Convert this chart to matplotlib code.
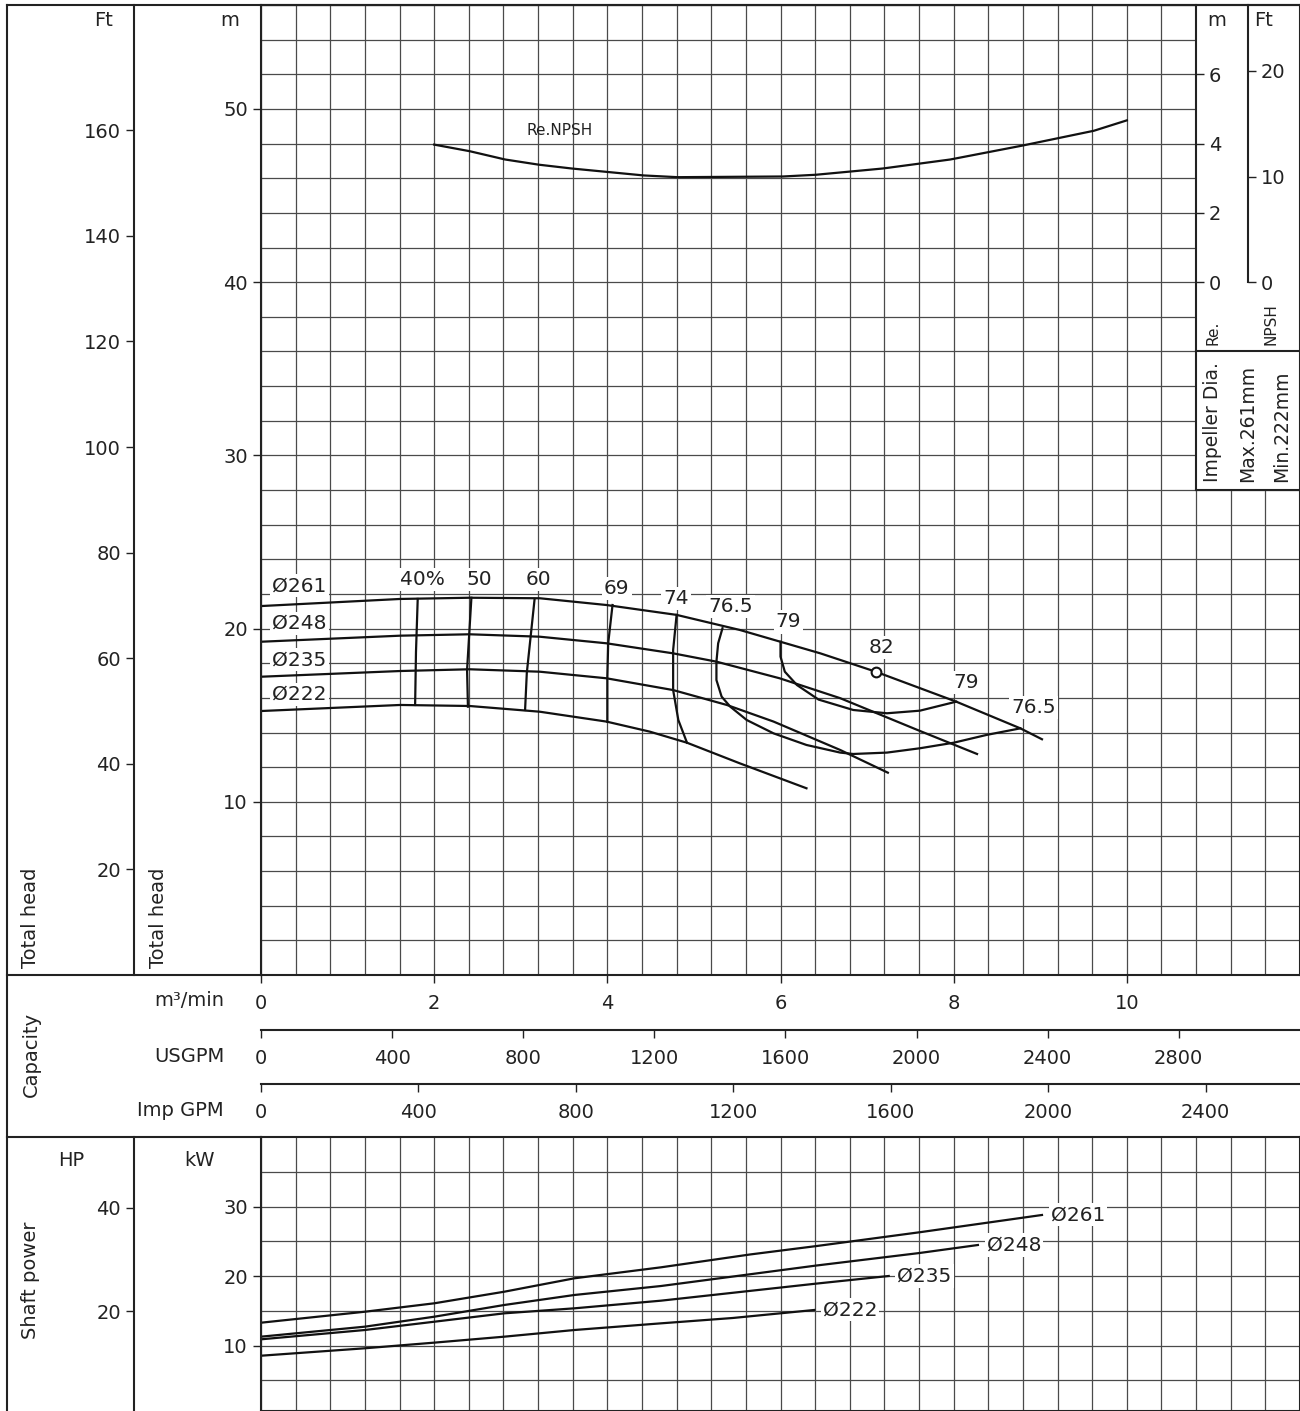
import numpy as np
import matplotlib
matplotlib.use('Agg')
import matplotlib.pyplot as plt
from matplotlib.lines import Line2D
from matplotlib.patches import Rectangle

W, H = 1300, 1411

# ---- head curves (capacity m3/min, head m)
q_261 = [0, 1.61, 2.41, 3.22, 3.99, 4.80, 5.53, 6.46, 7.10, 8.03, 8.77, 9.02]
h_261 = [21.30, 21.71, 21.78, 21.75, 21.36, 20.79, 19.92, 18.57, 17.51, 15.78, 14.24, 13.61]
q_248 = [0, 1.61, 2.41, 3.22, 3.99, 4.76, 5.26, 5.99, 6.69, 7.58, 8.27]
h_248 = [19.24, 19.59, 19.67, 19.53, 19.15, 18.57, 18.09, 17.13, 15.98, 14.15, 12.76]
q_235 = [0, 1.61, 2.41, 3.22, 3.99, 4.76, 5.38, 5.92, 6.69, 7.24]
h_235 = [17.22, 17.55, 17.65, 17.51, 17.13, 16.45, 15.59, 14.63, 12.99, 11.68]
q_222 = [0, 1.61, 2.41, 3.22, 3.99, 4.49, 4.92, 5.53, 6.30]
h_222 = [15.24, 15.59, 15.53, 15.20, 14.63, 14.05, 13.41, 12.22, 10.78]
dia_labels = ['Ø261', 'Ø248', 'Ø235', 'Ø222']
dia_label_h = [22.46, 20.32, 18.19, 16.22]

# ---- efficiency lines
e40_q = [1.81, 1.79, 1.78]
e40_h = [21.71, 18.65, 15.59]
e50_q = [2.43, 2.38, 2.39]
e50_h = [21.78, 17.61, 15.49]
e60_q = [3.16, 3.07, 3.05]
e60_h = [21.71, 17.44, 15.30]
e69_q = [4.06, 4.01, 4.00, 4.00]
e69_h = [21.36, 19.15, 17.22, 14.62]
e74_q = [4.80, 4.76, 4.76, 4.82, 4.92]
e74_h = [20.79, 18.76, 16.45, 14.72, 13.41]
e765_q = [5.33, 5.28, 5.26, 5.26, 5.32, 5.42, 5.61, 5.92, 6.30, 6.69, 6.84, 7.23, 7.61, 8.00, 8.38, 8.77]
e765_h = [20.02, 19.15, 18.09, 17.03, 16.07, 15.49, 14.72, 13.95, 13.28, 12.84, 12.76, 12.84, 13.09, 13.41, 13.86, 14.24]
e79_q = [6.00, 6.00, 6.05, 6.19, 6.44, 6.84, 7.23, 7.61, 8.03]
e79_h = [19.24, 18.38, 17.51, 16.74, 15.90, 15.30, 15.11, 15.26, 15.78]
best_q, best_h = 7.10, 17.51
eff_labels = ['40%', '50', '60', '69', '74', '76.5', '79', '82', '79', '76.5']
eff_label_q = [1.87, 2.52, 3.20, 4.11, 4.79, 5.42, 6.09, 7.17, 8.14, 8.92]
eff_label_h = [22.81, 22.86, 22.86, 22.34, 21.76, 21.25, 20.38, 18.88, 16.86, 15.42]

# ---- required NPSH (m)
q_npsh = [2.0, 2.41, 2.82, 3.21, 3.59, 4.42, 4.81, 6.03, 6.41, 7.18, 7.96, 8.79, 9.62, 10.0]
npsh = [3.97, 3.78, 3.54, 3.39, 3.28, 3.08, 3.03, 3.05, 3.10, 3.28, 3.54, 3.94, 4.37, 4.67]

# ---- shaft power (kW)
pq_261 = [0, 1.20, 2.00, 2.81, 3.62, 4.62, 5.65, 6.41, 7.61, 9.02]
kw_261 = [13.28, 14.86, 16.07, 17.74, 19.67, 21.25, 23.10, 24.30, 26.30, 28.78]
pq_248 = [0, 1.20, 2.00, 2.81, 3.62, 4.62, 6.41, 7.60, 8.28]
kw_248 = [11.27, 12.71, 14.14, 15.83, 17.27, 18.56, 21.50, 23.30, 24.46]
pq_235 = [0, 1.20, 2.00, 2.81, 3.62, 4.62, 6.41, 7.25]
kw_235 = [10.89, 12.23, 13.42, 14.63, 15.35, 16.45, 18.90, 20.00]
pq_222 = [0, 1.20, 2.00, 2.81, 3.62, 4.62, 5.45, 6.39]
kw_222 = [8.53, 9.60, 10.41, 11.27, 12.23, 13.19, 13.96, 15.11]

plt.rcParams['font.family'] = ['DejaVu Sans']
TXT = '#222222'
GRID = '#4a4a4a'
FRAME = '#222222'
CURVE = '#111111'
FS = 14

fig = plt.figure(figsize=(W / 100, H / 100), dpi=100)


def fx(px):
    return px / W


def fy(py):
    return 1 - py / H


def style_axis(a):
    a.tick_params(which='major', direction='out', length=6, width=1,
                  color=FRAME, labelcolor=TXT, labelsize=FS)
    a.tick_params(which='minor', length=0)


# ================= head chart
ax = fig.add_axes([fx(261), fy(975), 1039 / W, 970 / H])
ax.set_xlim(0, 12)
ax.set_ylim(0, 56)
ax.set_axisbelow(True)
ax.set_xticks(np.arange(0, 11, 2))
ax.set_xticks(np.arange(0, 12.01, 0.4), minor=True)
ax.set_yticks(np.arange(10, 51, 10))
ax.set_yticks(np.arange(0, 56.1, 2), minor=True)
ax.grid(which='both', color=GRID, lw=0.9)
style_axis(ax)
ax.tick_params(axis='x', pad=8)
for s in ax.spines.values():
    s.set_color(FRAME)
    s.set_linewidth(1.5)

for q, h in [(q_261, h_261), (q_248, h_248), (q_235, h_235), (q_222, h_222)]:
    ax.plot(q, h, color=CURVE, lw=1.6)
for lab, hh in zip(dia_labels, dia_label_h):
    ax.text(0.13, hh, lab, fontsize=14.5, color=TXT, ha='left', va='center',
            bbox=dict(boxstyle='square,pad=0.1', fc='white', ec='none'))

for q, h in [(e40_q, e40_h), (e50_q, e50_h), (e60_q, e60_h), (e69_q, e69_h),
             (e74_q, e74_h), (e765_q, e765_h), (e79_q, e79_h)]:
    ax.plot(q, h, color=CURVE, lw=1.6)
ax.plot([best_q], [best_h], 'o', ms=7, mfc='white', mec=CURVE, mew=1.5, zorder=4)
for lab, q, h in zip(eff_labels, eff_label_q, eff_label_h):
    ax.text(q, h, lab, fontsize=14.5, color=TXT, ha='center', va='center',
            bbox=dict(boxstyle='square,pad=0.1', fc='white', ec='none'))

# Ft scale
sec_ft = ax.secondary_yaxis(-127 / 1039, functions=(lambda m: m * 3.28084, lambda f: f / 3.28084))
sec_ft.set_yticks(np.arange(20, 161, 20))
style_axis(sec_ft)
sec_ft.spines['left'].set_color(FRAME)
sec_ft.spines['left'].set_linewidth(1.5)

# capacity scales
sec_us = ax.secondary_xaxis(-55 / 970, functions=(lambda q: q * 264.172, lambda g: g / 264.172))
sec_us.set_xticks(np.arange(0, 2801, 400))
sec_imp = ax.secondary_xaxis(-109 / 970, functions=(lambda q: q * 219.969, lambda g: g / 219.969))
sec_imp.set_xticks(np.arange(0, 2401, 400))
for s2 in (sec_us, sec_imp):
    style_axis(s2)
    s2.tick_params(pad=8)
    s2.spines['bottom'].set_color(FRAME)
    s2.spines['bottom'].set_linewidth(1.5)

# right NPSH panel
ax.add_patch(Rectangle((10.8, 28), 1.3, 28.5, fc='white', ec='none', zorder=1.5))
ax.plot([10.8, 12], [28, 28], color=FRAME, lw=1.5, zorder=3, clip_on=False)
ax.plot([10.8, 12], [36, 36], color=FRAME, lw=1.5, zorder=3, clip_on=False)
np_m = ax.secondary_yaxis(0.9, functions=(lambda h: (h - 40) / 2, lambda n: 40 + 2 * n))
np_m.set_yticks([0, 2, 4, 6])
np_m.spines['right'].set_bounds(-6, 8)
np_ft = ax.secondary_yaxis(0.95, functions=(lambda h: (h - 40) / 2 / 0.3048, lambda f: 40 + 2 * f * 0.3048))
np_ft.set_yticks([0, 10, 20])
np_ft.spines['right'].set_bounds(0, 26.25)
for s2 in (np_m, np_ft):
    style_axis(s2)
    s2.tick_params(pad=3)
    s2.spines['right'].set_color(FRAME)
    s2.spines['right'].set_linewidth(1.5)
    s2.set_zorder(4)

tw = ax.twinx()
tw.set_ylim(-20, 8)
tw.axis('off')
tw.plot(q_npsh, npsh, color=CURVE, lw=1.6)
tw.text(3.45, 4.37, 'Re.NPSH', fontsize=11, color=TXT, ha='center', va='center')

# ================= shaft power chart
axp = fig.add_axes([fx(261), 0, 1039 / W, 274 / H])
axp.set_xlim(0, 12)
axp.set_ylim(40 - 274 / 6.95, 40)
axp.set_axisbelow(True)
axp.set_xticks(np.arange(0, 12.01, 0.4))
axp.tick_params(axis='x', length=0, labelbottom=False)
axp.set_yticks([10, 20, 30])
axp.set_yticks(np.arange(5, 40, 5), minor=True)
axp.grid(which='both', color=GRID, lw=0.9)
style_axis(axp)
axp.tick_params(axis='x', length=0)
for s in axp.spines.values():
    s.set_color(FRAME)
    s.set_linewidth(1.5)
for q, k, lab in [(pq_261, kw_261, 'Ø261'), (pq_248, kw_248, 'Ø248'),
                  (pq_235, kw_235, 'Ø235'), (pq_222, kw_222, 'Ø222')]:
    axp.plot(q, k, color=CURVE, lw=1.6)
    axp.text(q[-1] + 0.1, k[-1], lab, fontsize=14.5, color=TXT, ha='left', va='center',
             bbox=dict(boxstyle='square,pad=0.1', fc='white', ec='none'))
sec_hp = axp.secondary_yaxis(-127 / 1039, functions=(lambda k: k / 0.7457, lambda hp: hp * 0.7457))
sec_hp.set_yticks([20, 40])
style_axis(sec_hp)
sec_hp.spines['left'].set_color(FRAME)
sec_hp.spines['left'].set_linewidth(1.5)

# ================= frame and left column labels
for xs, ys in [([7, 7], [5, 1411]), ([7, 1300], [5, 5]),
               ([7, 261], [975, 975]), ([7, 261], [1137, 1137])]:
    fig.add_artist(Line2D([fx(x) for x in xs], [fy(y) for y in ys],
                          color=FRAME, lw=1.5, transform=fig.transFigure))


def ftext(px, py, s, **kw):
    kw.setdefault('fontsize', FS)
    kw.setdefault('color', TXT)
    fig.text(fx(px), fy(py), s, **kw)


ftext(104, 20, 'Ft', ha='center', va='center')
ftext(230, 20, 'm', ha='center', va='center')
ftext(31, 968, 'Total head', rotation=90, ha='center', va='bottom')
ftext(158, 968, 'Total head', rotation=90, ha='center', va='bottom')
ftext(31, 1054, 'Capacity', rotation=90, ha='center', va='center')
ftext(224, 1001, 'm³/min', ha='right', va='center')
ftext(224, 1056, 'USGPM', ha='right', va='center')
ftext(224, 1110, 'Imp GPM', ha='right', va='center')
ftext(71, 1161, 'HP', ha='center', va='center')
ftext(200, 1161, 'kW', ha='center', va='center')
ftext(31, 1280, 'Shaft power', rotation=90, ha='center', va='center')

ftext(1217, 20, 'm', ha='center', va='center')
ftext(1264, 20, 'Ft', ha='center', va='center')
ftext(1213, 345, 'Re.', fontsize=11, rotation=90, ha='center', va='bottom')
ftext(1271, 345, 'NPSH', fontsize=11, rotation=90, ha='center', va='bottom')
ftext(1213, 482, 'Impeller Dia.', fontsize=13.5, rotation=90, ha='center', va='bottom')
ftext(1248, 482, 'Max.261mm', fontsize=13.5, rotation=90, ha='center', va='bottom')
ftext(1282, 482, 'Min.222mm', fontsize=13.5, rotation=90, ha='center', va='bottom')

fig.savefig('out.png', dpi=100)
